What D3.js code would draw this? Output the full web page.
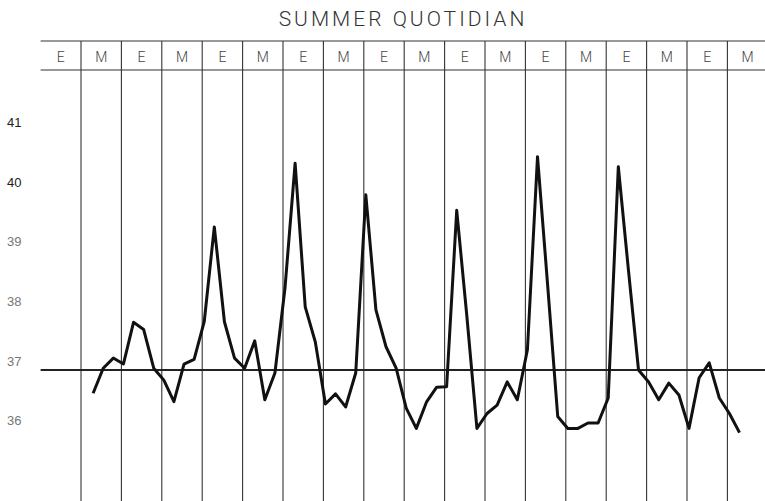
<!DOCTYPE html>
<meta charset="utf-8">

<script src="https://d3js.org/d3.v7.min.js"></script>

<style type="text/css">

body {
  margin: 0;
  background: #fff;
}

.title {
  font-family: Roboto, "Liberation Sans", sans-serif;
  font-weight: 300;
  font-size: 21px;
  letter-spacing: 3px;
  fill: #333;
}

.head text {
  font-family: Roboto, "Liberation Sans", sans-serif;
  font-weight: 300;
  font-size: 14px;
  fill: #444;
}

.y.axis text {
  font-family: "Liberation Sans", sans-serif;
  font-size: 13px;
}

.y.axis path {
  display: none;
}

.grid line {
  stroke: #333;
  stroke-width: 1.1px;
}

.temp {
  fill: none;
  stroke: #111;
  stroke-width: 3px;
  stroke-linejoin: round;
}

</style>

<body>
</body>

<script>

// half-day columns across the top (evening / morning)
var columns = ['E','M','E','M','E','M','E','M','E','M','E','M','E','M','E','M','E','M'];

// temperature scale labels
var yTicks = [41, 40, 39, 38, 37, 36];

// normal temperature line
var normalTemp = 37;

// readings, four per column, starting part way into the second column
var firstReading = 1.3;
var readingsPerColumn = 4;
var temps = [
  36.61, 37.03, 37.20, 37.10, 37.80, 37.68, 37.03, 36.83, 36.47, 37.10,
  37.18, 37.81, 39.40, 37.81, 37.20, 37.03, 37.49, 36.50, 36.95, 38.38,
  40.47, 38.06, 37.47, 36.43, 36.60, 36.38, 36.95, 39.94, 38.01, 37.39,
  37.03, 36.36, 36.02, 36.46, 36.71, 36.72, 39.68, 37.91, 36.02, 36.27,
  36.41, 36.80, 36.50, 37.34, 40.58, 38.43, 36.22, 36.02, 36.02, 36.11,
  36.11, 36.53, 40.41, 38.68, 37.00, 36.80, 36.50, 36.78, 36.58, 36.02,
  36.87, 37.12, 36.53, 36.27, 35.95
];

var width = 765,
    height = 501;

var svg = d3.select("body").append("svg")
    .attr("width", width)
    .attr("height", height);

var headTop = 41,
    headBottom = 70;

var xScale = d3.scaleLinear()
  .domain([0, columns.length])
  .range([40.6, 767.8]);

var yScale = d3.scaleLinear()
  .domain([36, 41])
  .range([429.6, 131.6]);

// title
svg.append('text')
  .attr('class', 'title')
  .attr('x', 403)
  .attr('y', 26)
  .attr('text-anchor', 'middle')
  .text('SUMMER QUOTIDIAN');

// grid: header rules, column dividers, normal line
var grid = svg.append('g').attr('class', 'grid');

grid.selectAll('.hrule')
  .data([headTop, headBottom]).enter().append('line')
  .attr('class', 'hrule')
  .attr('x1', xScale(0))
  .attr('x2', width)
  .attr('y1', function(d) { return d; })
  .attr('y2', function(d) { return d; });

grid.selectAll('.vrule')
  .data(d3.range(1, columns.length)).enter().append('line')
  .attr('class', 'vrule')
  .attr('x1', function(d) { return xScale(d); })
  .attr('x2', function(d) { return xScale(d); })
  .attr('y1', headTop)
  .attr('y2', height);

grid.append('line')
  .attr('x1', xScale(0))
  .attr('x2', width)
  .attr('y1', yScale(normalTemp))
  .attr('y2', yScale(normalTemp))
  .style('stroke-width', '1.8px')
  .style('stroke', '#222');

// column letters
svg.append('g').attr('class', 'head')
  .selectAll('text')
  .data(columns).enter().append('text')
  .attr('x', function(d, i) { return xScale(i + 0.5); })
  .attr('y', 57)
  .attr('dy', '0.35em')
  .attr('text-anchor', 'middle')
  .text(function(d) { return d; });

// temperature labels sit a little above their level
var yAxis = d3.axisLeft(yScale)
  .tickValues(yTicks)
  .tickSize(0)
  .tickFormat(d3.format('d'));

var yG = svg.append('g')
  .attr('class', 'y axis')
  .call(yAxis);

yG.selectAll('text')
  .attr('x', 7)
  .attr('y', -9)
  .style('text-anchor', 'start')
  .style('fill', function(d) { return d >= 40 ? '#222' : '#777'; });

// temperature line
var line = d3.line()
  .x(function(d, i) { return xScale(firstReading + i / readingsPerColumn); })
  .y(function(d) { return yScale(d); });

svg.append('path')
  .datum(temps)
  .attr('class', 'temp')
  .attr('d', line);

</script>
